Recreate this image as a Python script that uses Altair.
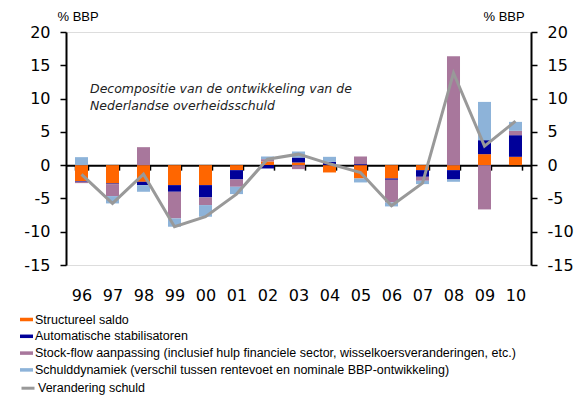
import altair as alt
import pandas as pd

years = ["96", "97", "98", "99", "00", "01", "02", "03", "04", "05", "06", "07", "08", "09", "10"]
series_names = [
    "Structureel saldo",
    "Automatische stabilisatoren",
    "Stock-flow aanpassing (inclusief hulp financiele sector, wisselkoersveranderingen, etc.)",
    "Schulddynamiek (verschil tussen rentevoet en nominale BBP-ontwikkeling)",
]
structureel = [-2.4, -2.75, -2.5, -3.0, -3.0, -0.75, 0.55, 0.4, -1.1, -2.0, -2.0, -0.75, -0.75, 1.65, 1.25]
automatisch = [-0.1, -0.1, -0.5, -1.0, -1.85, -1.4, -0.5, 0.75, 0.5, 0.15, -0.2, -1.0, -1.4, 2.1, 3.25]
stockflow = [-0.2, -1.8, 2.7, -4.0, -1.15, -1.1, 0.35, -0.6, 0.0, 1.15, -3.4, -0.6, 16.35, -6.65, 0.65]
schulddyn = [1.2, -1.1, -1.0, -1.25, -1.75, -1.1, 0.4, 0.9, 0.75, -0.6, -0.6, -0.5, -0.35, 5.75, 1.35]
verandering = [-1.4, -5.75, -1.35, -9.25, -7.75, -4.35, 0.9, 1.65, 0.2, -1.1, -6.1, -2.7, 13.85, 2.85, 6.6]
line_label = "Verandering schuld"
y_ticks = [-15, -10, -5, 0, 5, 10, 15, 20]
bar_colors = ["#FF6600", "#000099", "#A8779C", "#8DB3D9"]
line_color = "#999999"
note = ["Decompositie van de ontwikkeling van de", "Nederlandse overheidsschuld"]

rows = []
for si, (name, vals) in enumerate(zip(series_names, [structureel, automatisch, stockflow, schulddyn])):
    for yr, v in zip(years, vals):
        rows.append({"jaar": yr, "reeks": name, "orde": si, "waarde": v})
bars_df = pd.DataFrame(rows)
line_df = pd.DataFrame({"jaar": years, "verandering": verandering, "lbl": [line_label] * len(years)})

W, H = 465, 233
TICK_FONT = "DejaVu Sans"
LEG_FONT = "Liberation Sans"
LEG_Y = 281
ROW = 16.8

xscale = alt.Scale(domain=years, paddingInner=0.58, paddingOuter=0.29)
yscale = alt.Scale(domain=[-15, 20], nice=False, zero=False)

x_axis = alt.Axis(
    title=None, orient="bottom", offset=-(H * 15 / 35), tickBand="extent",
    domainColor="black", domainWidth=2, tickColor="black", tickWidth=1.5, tickSize=5,
    labelPadding=117, labelAngle=0, labelFont=TICK_FONT, labelFontSize=16, labelColor="black",
    grid=False,
)


def y_axis(side, tx):
    return alt.Axis(
        title="% BBP", titleAngle=0, titleX=tx, titleY=-16, titleAlign="left", titleBaseline="middle",
        titleFont=LEG_FONT, titleFontSize=13, titleFontWeight="normal", titleColor="black",
        values=y_ticks, orient=side, grid=False, domainColor="black", domainWidth=2,
        tickColor="black", tickWidth=1.5, tickSize=6, labelPadding=10,
        labelExpr="datum.value + ''",
        labelFont=TICK_FONT, labelFontSize=16, labelColor="black",
    )


rect_symbol = "M-1,-0.27H1V0.27H-1Z"

bars = alt.Chart(bars_df).mark_bar().encode(
    x=alt.X("jaar:N", sort=years, scale=xscale, axis=x_axis),
    y=alt.Y("sum(waarde):Q", stack="zero", scale=yscale, axis=y_axis("left", -9)),
    color=alt.Color(
        "reeks:N", sort=series_names,
        scale=alt.Scale(domain=series_names, range=bar_colors),
        legend=alt.Legend(
            title=None, orient="none", legendX=-46, legendY=LEG_Y, direction="vertical",
            symbolType=rect_symbol, symbolSize=169, symbolStrokeWidth=0, symbolOpacity=1,
            labelFont=LEG_FONT, labelFontSize=12.5, labelColor="black", labelLimit=600,
            labelOffset=2, rowPadding=ROW - 13, padding=0,
        ),
    ),
    order=alt.Order("orde:Q", sort="ascending"),
)

line = alt.Chart(line_df).mark_line(strokeWidth=3).encode(
    x=alt.X("jaar:N", sort=years, scale=xscale, axis=None),
    y=alt.Y("verandering:Q", scale=yscale, axis=y_axis("right", -48)),
    stroke=alt.Stroke(
        "lbl:N",
        scale=alt.Scale(domain=[line_label], range=[line_color]),
        legend=alt.Legend(
            title=None, orient="none", legendX=-46, legendY=LEG_Y + 4 * ROW, direction="vertical",
            symbolType="stroke", symbolSize=169, symbolStrokeWidth=3,
            labelFont=LEG_FONT, labelFontSize=12.5, labelColor="black", labelLimit=600,
            labelOffset=2, padding=0,
        ),
    ),
)

chart = (
    alt.layer(bars, line)
    .resolve_axis(y="independent", x="independent")
    .resolve_scale(color="independent", stroke="independent")
    .properties(
        width=W, height=H,
        autosize=alt.AutoSizeParams(type="none"),
        padding={"left": 58, "top": 24, "right": 47, "bottom": 131},
        title=alt.TitleParams(
            text=note, anchor="start", frame="group", orient="top",
            font="DejaVu Sans", fontSize=12.5, fontStyle="italic", fontWeight="normal",
            color="#222222", dx=24, dy=102, offset=0, baseline="top", lineHeight=17,
        ),
    )
    .configure_view(stroke=None)
    .configure(background="white")
)

chart.save("out.html", embed_options={"renderer": "svg", "actions": False})
